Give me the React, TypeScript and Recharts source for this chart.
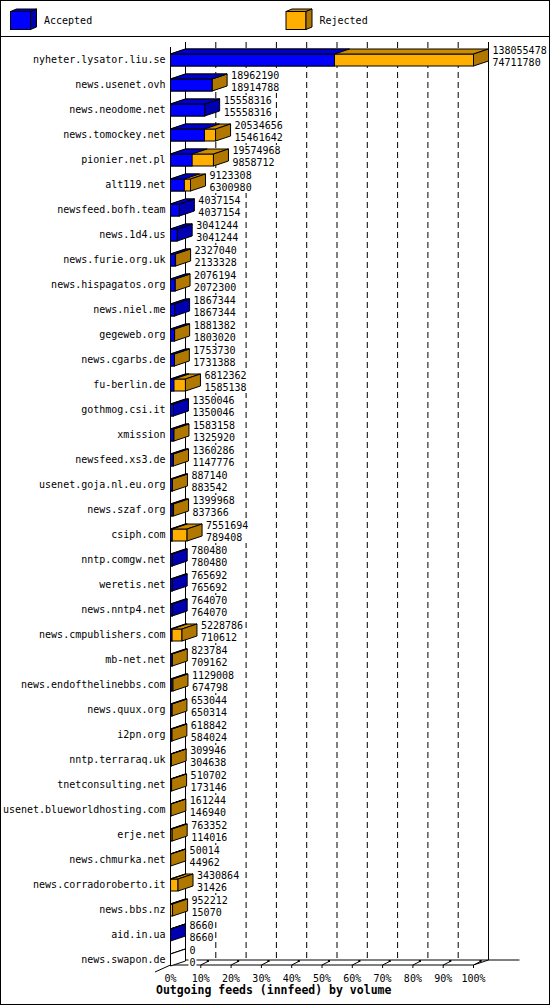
import { Bar, BarChart, CartesianGrid, Legend, XAxis, YAxis } from "recharts";

const hosts = [
  "nyheter.lysator.liu.se",
  "news.usenet.ovh",
  "news.neodome.net",
  "news.tomockey.net",
  "pionier.net.pl",
  "alt119.net",
  "newsfeed.bofh.team",
  "news.1d4.us",
  "news.furie.org.uk",
  "news.hispagatos.org",
  "news.niel.me",
  "gegeweb.org",
  "news.cgarbs.de",
  "fu-berlin.de",
  "gothmog.csi.it",
  "xmission",
  "newsfeed.xs3.de",
  "usenet.goja.nl.eu.org",
  "news.szaf.org",
  "csiph.com",
  "nntp.comgw.net",
  "weretis.net",
  "news.nntp4.net",
  "news.cmpublishers.com",
  "mb-net.net",
  "news.endofthelinebbs.com",
  "news.quux.org",
  "i2pn.org",
  "nntp.terraraq.uk",
  "tnetconsulting.net",
  "usenet.blueworldhosting.com",
  "erje.net",
  "news.chmurka.net",
  "news.corradoroberto.it",
  "news.bbs.nz",
  "aid.in.ua",
  "news.swapon.de",
];

// upper number of each pair (orange box reaches it)
const rejectedVolume = [
  138055478, 18962190, 15558316, 20534656, 19574968, 9123308, 4037154, 3041244,
  2327040, 2076194, 1867344, 1881382, 1753730, 6812362, 1350046, 1583158,
  1360286, 887140, 1399968, 7551694, 780480, 765692, 764070, 5228786, 823784,
  1129008, 653044, 618842, 309946, 510702, 161244, 763352, 50014, 3430864,
  952212, 8660, 0,
];

// lower number of each pair (blue box reaches it)
const acceptedVolume = [
  74711780, 18914788, 15558316, 15461642, 9858712, 6300980, 4037154, 3041244,
  2133328, 2072300, 1867344, 1803020, 1731388, 1585138, 1350046, 1325920,
  1147776, 883542, 837366, 789408, 780480, 765692, 764070, 710612, 709162,
  674798, 650314, 584024, 304638, 173146, 146940, 114016, 44962, 31426, 15070,
  8660, 0,
];

const percentSteps = [0, 10, 20, 30, 40, 50, 60, 70, 80, 90, 100];
const legendOrder = ["accepted", "rejected"];

const FONT = "'DejaVu Sans Mono', monospace";
const CHAR_W = 6.02;
const DX = 15;
const DY = 5;

const COLORS: Record<string, { front: string; top: string; side: string }> = {
  accepted: { front: "#0000ff", top: "#0000cc", side: "#0000b0" },
  rejected: { front: "#ffaf00", top: "#cc8c00", side: "#b07800" },
};

const rows = hosts.map((host, i) => ({
  host,
  rejected: rejectedVolume[i],
  accepted: acceptedVolume[i],
}));
const maxVolume = Math.max(...rejectedVolume);

function topFace(x: number, y: number, w: number) {
  return `${x},${y} ${x + w},${y} ${x + w + DX},${y - DY} ${x + DX},${y - DY}`;
}

function RejectedBox(props: any) {
  const { x, y, height, payload } = props;
  const w = Math.max(props.width || 0, 0);
  const x2 = x + w;
  const c = COLORS.rejected;
  let side = c.side;
  if (payload.rejected === 0) side = "#ffffff";
  else if (payload.accepted === payload.rejected) side = COLORS.accepted.side;
  const top = String(payload.rejected);
  const bottom = String(payload.accepted);
  const tx = x2 + DX + 4;
  const labelW = Math.max(top.length, bottom.length) * CHAR_W + 2;
  return (
    <g>
      <rect x={x} y={y} width={w} height={height} fill={c.front} stroke="#000" />
      <polygon points={topFace(x, y, w)} fill={c.top} stroke="#000" />
      <polygon
        points={`${x2},${y} ${x2 + DX},${y - DY} ${x2 + DX},${y - DY + height} ${x2},${y + height}`}
        fill={side}
        stroke="#000"
      />
      <rect x={tx - 1} y={y - 9} width={labelW} height={23} fill="#fff" />
      <text x={tx} y={y - 0.5} fontFamily={FONT} fontSize={10} fill="#000">
        {top}
      </text>
      <text x={tx} y={y + 11.5} fontFamily={FONT} fontSize={10} fill="#000">
        {bottom}
      </text>
    </g>
  );
}

function AcceptedBox(props: any) {
  const { x, y, height } = props;
  const w = Math.max(props.width || 0, 0);
  if (w <= 0) return <g />;
  const c = COLORS.accepted;
  return (
    <g>
      <rect x={x} y={y} width={w} height={height} fill={c.front} stroke="#000" />
      <polygon points={topFace(x, y, w)} fill={c.top} stroke="#000" />
    </g>
  );
}

// vertical grid lines become the back wall, the floor and its ticks
function WallLine(props: any) {
  const { x1, y1, y2 } = props;
  const left = props.offset?.left ?? props.x;
  const right = left + (props.offset?.width ?? props.width);
  const backTop = y1 - DY;
  const floorFront = y2 - 7;
  const floorBack = floorFront - DY;
  const tick = (
    <g>
      <line x1={x1} y1={floorFront + 3} x2={x1} y2={floorFront} stroke="#000" />
      <line x1={x1} y1={floorFront} x2={x1 + 8} y2={floorBack + 1} stroke="#000" />
      <rect x={x1 + 6} y={floorBack} width={2} height={2} fill="#000" />
    </g>
  );
  if (Math.abs(x1 - left) < 0.5) {
    return (
      <g>
        <line x1={x1} y1={y1} x2={x1} y2={floorFront} stroke="#000" />
        <line x1={x1 + DX} y1={backTop} x2={x1 + DX} y2={floorBack} stroke="#000" />
        <line x1={x1} y1={floorFront} x2={right} y2={floorFront} stroke="#000" />
        <line x1={x1 + DX} y1={floorBack} x2={right + DX + 31} y2={floorBack} stroke="#000" />
        <line x1={x1 - 15.5} y1={floorFront + 7} x2={x1} y2={floorFront} stroke="#000" />
        <line x1={right} y1={floorFront} x2={right + DX} y2={floorBack} stroke="#000" />
      </g>
    );
  }
  if (Math.abs(x1 - right) < 0.5) {
    return (
      <g>
        <line x1={x1 + DX} y1={backTop} x2={x1 + DX} y2={floorBack} stroke="#000" />
        {tick}
      </g>
    );
  }
  return (
    <g>
      <line
        x1={x1 + DX}
        y1={backTop}
        x2={x1 + DX}
        y2={floorBack}
        stroke="#000"
        strokeDasharray="6 4"
      />
      {tick}
    </g>
  );
}

function HostTick({ x, y, payload }: any) {
  return (
    <text x={x} y={y + 3.5} textAnchor="end" fontFamily={FONT} fontSize={10} fill="#000">
      {payload.value}
    </text>
  );
}

function PercentTick({ x, y, payload }: any) {
  return (
    <text x={x} y={y + 9.5} textAnchor="middle" fontFamily={FONT} fontSize={10} fill="#000">
      {`${Math.round((payload.value / maxVolume) * 100)}%`}
    </text>
  );
}

function AxisTitle({ viewBox }: any) {
  return (
    <text
      x={viewBox.x - 14.5}
      y={viewBox.y + 22}
      fontFamily={FONT}
      fontSize={11.5}
      fontWeight="bold"
      fill="#000"
    >
      Outgoing feeds (innfeed) by volume
    </text>
  );
}

function LegendBoxes({ payload }: any) {
  const items = legendOrder
    .map((k) => (payload || []).find((p: any) => p.dataKey === k))
    .filter(Boolean);
  return (
    <svg width={550} height={47} style={{ display: "block" }}>
      {items.map((item: any, i: number) => {
        const c = COLORS[item.dataKey];
        const x = 10.5 + i * 275.5;
        const y = 11.5;
        return (
          <g key={item.dataKey}>
            <rect x={x} y={y} width={20} height={18} fill={c.front} stroke="#000" />
            <polygon
              points={`${x},${y} ${x + 20},${y} ${x + 26},${y - 2.5} ${x + 6},${y - 2.5}`}
              fill={c.top}
              stroke="#000"
            />
            <polygon
              points={`${x + 20},${y} ${x + 26},${y - 2.5} ${x + 26},${y + 15.5} ${x + 20},${y + 18}`}
              fill={c.side}
              stroke="#000"
            />
            <text x={x + 33.5} y={y + 12.5} fontFamily={FONT} fontSize={10} fill="#000">
              {item.value}
            </text>
          </g>
        );
      })}
      <line x1={0} y1={36.5} x2={550} y2={36.5} stroke="#000" />
    </svg>
  );
}

export default function App() {
  return (
    <div style={{ position: "absolute", left: 0, top: 0, width: 550, height: 1005, background: "#fff" }}>
      <BarChart
        layout="vertical"
        width={550}
        height={1005}
        data={rows}
        margin={{ top: 0, right: 76.5, bottom: 0, left: 0 }}
        barSize={12}
        barGap={-12}
      >
        <Legend
          verticalAlign="top"
          align="left"
          content={LegendBoxes}
          wrapperStyle={{ top: 0, left: 0, width: 550, height: 47 }}
        />
        <CartesianGrid horizontal={false} vertical={WallLine} fill="none" />
        <XAxis
          type="number"
          domain={[0, maxVolume]}
          ticks={percentSteps.map((p) => (maxVolume * p) / 100)}
          interval={0}
          axisLine={false}
          tickLine={false}
          tickSize={0}
          tickMargin={0}
          height={33}
          tick={PercentTick}
          label={{ value: "Outgoing feeds (innfeed) by volume", content: AxisTitle }}
        />
        <YAxis
          type="category"
          dataKey="host"
          width={170.5}
          interval={0}
          axisLine={false}
          tickLine={false}
          tickSize={0}
          tickMargin={5}
          tick={HostTick}
        />
        <Bar dataKey="rejected" name="Rejected" fill={COLORS.rejected.front} shape={RejectedBox} isAnimationActive={false} />
        <Bar dataKey="accepted" name="Accepted" fill={COLORS.accepted.front} shape={AcceptedBox} isAnimationActive={false} />
      </BarChart>
      <div
        style={{
          position: "absolute",
          left: 0,
          top: 0,
          width: 550,
          height: 1005,
          border: "1px solid #000",
          boxSizing: "border-box",
          pointerEvents: "none",
        }}
      />
    </div>
  );
}
